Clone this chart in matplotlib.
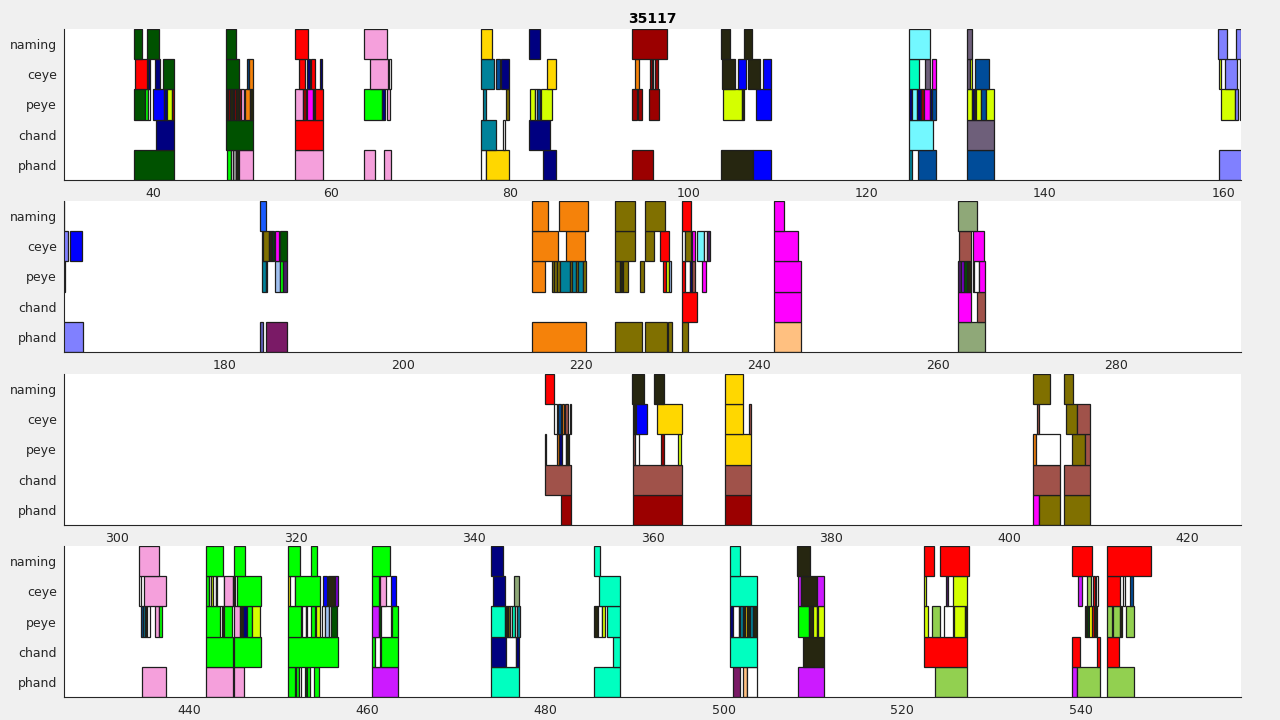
import matplotlib
matplotlib.use("Agg")
import matplotlib.pyplot as plt
from matplotlib.patches import Rectangle

title = "35117"
rows = ["phand", "chand", "peye", "ceye", "naming"]
panel_limits = [(30, 162), (162, 294), (294, 426), (426, 558)]
panel_ticks = [[40, 60, 80, 100, 120, 140, 160],
               [180, 200, 220, 240, 260, 280],
               [300, 320, 340, 360, 380, 400, 420],
               [440, 460, 480, 500, 520, 540]]

palette = {
    "dkgreen": "#005200", "red": "#ff0000", "navy": "#000080", "blue": "#0000ff",
    "pink": "#f5a0dc", "gold": "#ffd700", "teal": "#00829a", "steelblue": "#004c99",
    "orange": "#f5820a", "darkred": "#9b0000", "dark": "#262610", "yellowgreen": "#d4ff00",
    "lightcyan": "#73f8ff", "aqua": "#00ffc0", "graypurple": "#6e5f7a", "periwinkle": "#8080ff",
    "magenta": "#ff00ff", "olive": "#807000", "sienna": "#a0524a", "sage": "#8fa878",
    "peach": "#ffc080", "plum": "#7a1a66", "violet": "#cc1aff", "lightgreen": "#92d050",
    "green": "#00ff00", "lightblue": "#a0c0f0", "royalblue": "#1a5cff", "darkpurple": "#4a1a66",
    "purple": "#7a00cc", "white": "#ffffff", "yellow": "#ffff00", "gray": "#a0a0a0",
    "slateblue": "#6060c0",
}

naming = [
    (37.9, 38.7, "dkgreen"), (39.3, 40.6, "dkgreen"), (48.2, 49.3, "dkgreen"), (55.9, 57.4, "red"),
    (63.7, 66.2, "pink"), (76.8, 78.0, "gold"), (82.2, 83.4, "navy"), (93.7, 97.6, "darkred"),
    (103.7, 104.7, "dark"), (106.3, 107.2, "dark"), (124.8, 127.1, "lightcyan"), (131.3, 131.8, "graypurple"),
    (159.4, 160.4, "periwinkle"), (161.4, 162.0, "periwinkle"),
    (184.0, 184.6, "royalblue"), (214.5, 216.3, "orange"), (217.5, 220.8, "orange"), (223.8, 226.0, "olive"),
    (227.2, 229.4, "olive"), (231.3, 232.3, "red"), (241.6, 242.8, "magenta"), (262.3, 264.4, "sage"),
    (347.9, 349.0, "red"), (357.7, 359.1, "dark"), (360.2, 361.3, "dark"), (368.1, 370.1, "gold"),
    (402.7, 404.6, "olive"), (406.1, 407.2, "olive"),
    (434.4, 436.7, "pink"), (441.9, 443.8, "green"), (445.1, 446.3, "green"), (451.1, 452.5, "green"),
    (453.7, 454.4, "green"), (460.5, 462.6, "green"), (473.9, 475.2, "navy"), (485.4, 486.1, "aqua"),
    (500.7, 501.8, "aqua"), (508.2, 509.7, "dark"), (522.4, 523.6, "red"), (524.2, 527.5, "red"),
    (539.1, 541.3, "red"), (543.0, 547.9, "red"),
]

ceye = [
    (38.0, 39.3, "red"), (39.4, 39.7, "navy"), (40.2, 40.8, "navy"), (41.1, 42.3, "dkgreen"),
    (48.2, 49.6, "dkgreen"), (50.5, 50.8, "steelblue"), (50.8, 51.2, "orange"), (56.4, 57.0, "red"),
    (57.3, 57.6, "navy"), (57.7, 58.1, "red"), (58.7, 58.9, "navy"), (64.3, 66.3, "pink"),
    (66.5, 66.7, "white"), (76.8, 78.2, "teal"), (78.5, 78.9, "steelblue"), (79.0, 79.9, "navy"),
    (84.2, 85.2, "gold"), (94.0, 94.5, "orange"), (95.7, 96.0, "darkred"), (96.0, 96.3, "white"),
    (96.3, 96.6, "darkred"), (103.8, 105.2, "dark"), (105.6, 106.5, "blue"), (106.7, 108.1, "dark"),
    (108.4, 109.3, "blue"), (124.8, 125.9, "aqua"), (126.6, 127.1, "graypurple"), (127.4, 127.8, "magenta"),
    (131.3, 131.6, "graypurple"), (131.6, 131.8, "yellowgreen"), (132.2, 133.7, "steelblue"),
    (159.5, 159.8, "yellowgreen"), (160.2, 161.5, "periwinkle"), (161.9, 162.5, "periwinkle"),
    (162.7, 164.0, "blue"), (184.2, 184.3, "white"), (184.3, 185.0, "olive"), (185.0, 185.3, "dark"),
    (185.3, 185.6, "dkgreen"), (185.7, 186.1, "magenta"), (186.2, 187.0, "dkgreen"),
    (214.5, 217.4, "orange"), (218.3, 220.4, "orange"), (223.8, 226.0, "olive"), (227.2, 228.2, "olive"),
    (228.8, 229.9, "red"), (231.3, 231.6, "white"), (231.6, 232.3, "olive"), (232.4, 232.8, "magenta"),
    (233.0, 233.8, "lightcyan"), (233.8, 234.1, "white"), (234.1, 234.4, "darkpurple"),
    (241.6, 244.3, "magenta"), (262.4, 263.7, "sienna"), (263.9, 265.2, "magenta"),
    (349.0, 349.3, "white"), (349.4, 349.7, "steelblue"), (349.9, 350.1, "orange"), (350.2, 350.5, "sienna"),
    (350.7, 350.9, "lightblue"), (357.8, 358.0, "dark"), (358.2, 359.4, "blue"), (360.5, 363.3, "gold"),
    (368.1, 370.1, "gold"), (370.8, 371.1, "sienna"), (403.1, 403.4, "sienna"), (406.4, 407.6, "olive"),
    (407.6, 409.1, "sienna"),
    (434.4, 434.6, "white"), (435.0, 437.4, "pink"), (441.9, 442.3, "green"), (442.3, 442.5, "white"),
    (442.5, 442.7, "yellowgreen"), (442.7, 443.0, "white"), (443.0, 443.2, "dark"), (443.2, 443.9, "white"),
    (443.9, 444.9, "pink"), (444.9, 445.2, "dark"), (445.4, 448.1, "green"), (451.1, 451.4, "yellow"),
    (451.4, 451.9, "white"), (451.9, 454.7, "green"), (455.1, 455.5, "blue"), (455.6, 456.4, "dark"),
    (456.4, 456.7, "purple"), (460.5, 461.3, "green"), (461.4, 462.1, "pink"), (462.7, 463.2, "blue"),
    (474.1, 475.5, "navy"), (476.5, 477.0, "sage"), (486.0, 488.4, "aqua"), (500.7, 503.7, "aqua"),
    (508.3, 508.6, "violet"), (508.6, 510.4, "dark"), (510.4, 511.2, "violet"),
    (522.4, 522.7, "yellowgreen"), (524.9, 525.1, "darkpurple"), (525.7, 527.3, "yellowgreen"),
    (539.7, 540.2, "violet"), (540.7, 541.2, "lightgreen"), (541.4, 541.6, "red"), (541.7, 542.0, "white"),
    (543.0, 544.4, "red"), (544.8, 545.0, "white"), (545.6, 545.9, "steelblue"),
]

peye = [
    (37.9, 39.1, "dkgreen"), (39.1, 39.4, "green"), (39.4, 39.7, "white"), (40.0, 41.2, "blue"),
    (41.2, 41.5, "navy"), (41.6, 42.1, "yellowgreen"), (42.1, 42.3, "darkred"),
    (48.2, 48.4, "dark"), (48.4, 48.6, "darkred"), (48.6, 49.0, "dark"), (49.1, 49.3, "darkred"),
    (49.3, 49.6, "dark"), (49.6, 49.9, "darkred"), (49.9, 50.2, "pink"), (50.3, 50.9, "orange"),
    (50.9, 51.2, "dark"), (55.9, 56.8, "pink"), (56.8, 57.1, "darkred"), (57.3, 57.9, "magenta"),
    (57.9, 58.2, "dark"), (58.2, 59.0, "red"), (63.7, 65.7, "green"), (65.7, 66.0, "navy"),
    (66.2, 66.6, "pink"), (77.0, 77.3, "teal"), (79.6, 79.9, "olive"), (82.3, 82.8, "yellowgreen"),
    (82.8, 83.1, "white"), (83.1, 83.4, "steelblue"), (83.5, 84.7, "yellowgreen"),
    (93.7, 94.3, "darkred"), (94.4, 94.8, "darkred"), (95.6, 96.7, "darkred"),
    (103.9, 106.0, "yellowgreen"), (106.0, 106.3, "dark"), (107.6, 109.3, "blue"),
    (124.8, 125.1, "navy"), (125.1, 125.7, "lightcyan"), (125.7, 126.1, "navy"), (126.1, 126.4, "darkred"),
    (126.4, 127.1, "magenta"), (127.1, 127.4, "navy"), (127.4, 127.8, "steelblue"),
    (131.3, 131.8, "yellowgreen"), (131.8, 132.1, "navy"), (132.1, 132.3, "dark"),
    (132.3, 132.8, "yellowgreen"), (132.8, 133.4, "steelblue"), (133.4, 134.3, "yellowgreen"),
    (159.8, 161.3, "yellowgreen"), (161.3, 161.7, "periwinkle"),
    (161.9, 162.1, "teal"), (184.2, 184.6, "teal"), (184.6, 184.8, "steelblue"), (185.7, 186.2, "lightblue"),
    (186.2, 186.6, "green"), (186.6, 187.0, "darkpurple"), (214.5, 215.9, "orange"),
    (216.7, 217.0, "olive"), (217.0, 217.3, "olive"), (217.3, 217.6, "olive"), (217.6, 218.7, "teal"),
    (218.7, 219.0, "olive"), (219.0, 219.4, "teal"), (219.4, 219.6, "olive"), (219.6, 220.2, "teal"),
    (220.2, 220.5, "olive"), (223.8, 224.4, "olive"), (224.4, 224.7, "dark"), (224.7, 225.2, "olive"),
    (226.6, 227.0, "olive"), (229.2, 229.5, "red"), (229.5, 229.9, "yellowgreen"), (229.9, 230.1, "lightblue"),
    (231.3, 231.7, "red"), (231.7, 232.2, "white"), (232.2, 232.4, "navy"), (232.4, 232.8, "sienna"),
    (233.5, 234.0, "magenta"), (241.6, 244.6, "magenta"), (262.3, 262.6, "darkpurple"),
    (262.6, 262.9, "purple"), (262.9, 263.3, "dkgreen"), (263.3, 263.7, "dark"),
    (263.9, 264.1, "steelblue"), (264.1, 264.6, "white"), (264.6, 265.3, "magenta"),
    (347.9, 348.1, "white"), (349.3, 349.5, "orange"), (349.5, 349.9, "navy"), (349.9, 350.3, "white"),
    (350.3, 350.6, "dark"), (357.8, 358.0, "sienna"), (358.0, 358.5, "white"), (361.0, 361.3, "darkred"),
    (362.9, 363.2, "yellowgreen"), (368.1, 371.1, "gold"), (402.7, 403.0, "orange"),
    (403.0, 405.7, "white"), (407.1, 408.5, "olive"), (408.5, 409.1, "sienna"),
    (434.6, 434.9, "steelblue"), (434.9, 435.1, "teal"), (435.1, 435.3, "dark"), (435.3, 435.6, "white"),
    (436.2, 436.7, "pink"), (436.7, 437.0, "green"),
    (441.9, 443.5, "green"), (443.7, 444.0, "dark"), (444.0, 444.8, "green"), (445.1, 445.7, "pink"),
    (445.7, 446.1, "dark"), (446.1, 446.5, "navy"), (446.5, 447.1, "green"), (447.1, 448.0, "yellowgreen"),
    (451.1, 452.6, "green"), (452.7, 453.1, "white"), (453.1, 453.3, "yellowgreen"), (453.7, 454.2, "green"),
    (454.3, 454.7, "yellowgreen"), (454.9, 455.3, "white"), (455.3, 455.7, "lightblue"),
    (455.7, 456.0, "white"), (456.0, 456.6, "dkgreen"),
    (460.5, 461.3, "violet"), (461.3, 461.5, "dkgreen"), (461.5, 462.7, "white"), (462.8, 463.5, "green"),
    (473.9, 475.5, "aqua"), (475.5, 475.8, "dark"), (475.8, 476.0, "olive"), (476.0, 476.2, "white"),
    (476.2, 476.6, "aqua"), (476.6, 476.8, "white"), (476.8, 477.1, "teal"),
    (485.4, 485.9, "dark"), (485.9, 486.3, "white"), (486.3, 486.7, "yellowgreen"), (486.9, 488.4, "aqua"),
    (500.7, 501.0, "navy"), (501.0, 501.7, "white"), (501.7, 501.8, "dark"), (501.8, 502.2, "teal"),
    (502.2, 502.4, "dark"), (502.4, 502.6, "gold"), (502.6, 502.9, "dark"), (502.9, 503.3, "teal"),
    (503.3, 503.7, "dark"),
    (508.3, 509.5, "green"), (509.5, 510.0, "dark"), (510.0, 510.4, "yellowgreen"), (510.4, 510.6, "dark"),
    (510.6, 511.2, "yellowgreen"),
    (522.4, 522.9, "yellowgreen"), (523.3, 524.2, "lightgreen"), (524.7, 525.7, "white"),
    (525.8, 527.0, "yellowgreen"), (527.0, 527.3, "dark"),
    (540.5, 540.7, "dark"), (540.7, 541.0, "dkgreen"), (541.0, 541.3, "yellow"), (541.3, 541.5, "red"),
    (541.5, 541.9, "dark"), (543.0, 543.5, "lightgreen"), (543.7, 544.4, "lightgreen"),
    (544.4, 544.7, "dark"), (545.1, 546.0, "lightgreen"),
]

chand = [
    (40.3, 42.3, "navy"), (48.2, 51.2, "dkgreen"), (55.9, 59.0, "red"), (76.8, 78.4, "teal"),
    (79.2, 79.5, "white"), (82.2, 84.5, "navy"), (124.8, 127.5, "lightcyan"), (131.3, 134.3, "graypurple"),
    (231.3, 233.0, "red"), (241.6, 244.6, "magenta"), (262.3, 263.7, "magenta"), (264.4, 265.3, "sienna"),
    (347.9, 350.9, "sienna"), (357.8, 363.3, "sienna"), (368.1, 371.1, "sienna"),
    (402.7, 405.7, "sienna"), (406.1, 409.1, "sienna"),
    (441.9, 444.9, "green"), (445.1, 448.1, "green"), (451.1, 456.7, "green"), (460.5, 460.9, "green"),
    (460.9, 461.4, "white"), (461.5, 463.5, "green"), (473.9, 475.6, "navy"), (475.6, 476.7, "white"),
    (476.7, 477.0, "navy"), (487.6, 488.4, "aqua"), (500.7, 503.7, "aqua"), (508.9, 511.2, "dark"),
    (522.4, 527.3, "red"), (539.1, 539.9, "red"), (541.8, 542.2, "red"), (543.0, 544.3, "red"),
]

phand = [
    (37.9, 42.3, "dkgreen"), (48.3, 48.7, "green"), (48.7, 49.0, "white"), (49.0, 49.3, "gray"),
    (49.3, 49.5, "dark"), (49.6, 51.2, "pink"), (55.9, 59.0, "pink"), (63.7, 64.9, "pink"),
    (65.9, 66.7, "pink"), (76.8, 77.3, "white"), (77.3, 79.9, "gold"), (83.7, 85.2, "navy"),
    (93.7, 96.1, "darkred"), (103.7, 107.3, "dark"), (107.3, 109.3, "blue"), (124.8, 125.1, "teal"),
    (125.8, 127.8, "steelblue"), (131.3, 134.3, "steelblue"), (159.5, 164.1, "periwinkle"),
    (184.0, 184.3, "slateblue"), (184.6, 187.0, "plum"), (214.5, 220.5, "orange"), (223.8, 226.8, "olive"),
    (227.2, 229.6, "olive"), (229.7, 230.2, "olive"), (231.3, 232.0, "olive"), (241.6, 244.6, "peach"),
    (262.3, 265.3, "sage"),
    (349.7, 350.9, "darkred"), (357.8, 363.3, "darkred"), (368.1, 371.1, "darkred"),
    (402.7, 403.4, "magenta"), (403.4, 405.7, "olive"), (406.1, 409.1, "olive"),
    (434.7, 437.4, "pink"), (441.9, 444.9, "pink"), (445.1, 446.2, "pink"), (451.1, 451.9, "green"),
    (452.0, 452.4, "green"), (452.4, 452.6, "white"), (453.0, 453.2, "dkgreen"), (453.2, 453.6, "green"),
    (454.0, 454.6, "green"), (460.5, 463.5, "violet"), (473.9, 477.0, "aqua"), (485.4, 488.4, "aqua"),
    (501.0, 501.8, "plum"), (502.2, 502.6, "peach"), (502.6, 503.7, "white"), (508.3, 511.2, "violet"),
    (523.7, 527.3, "lightgreen"), (539.1, 539.6, "violet"), (539.6, 542.2, "lightgreen"),
    (543.0, 546.0, "lightgreen"),
]

row_data = {"naming": naming, "ceye": ceye, "peye": peye, "chand": chand, "phand": phand}

fig = plt.figure(figsize=(12.8, 7.2), dpi=100, facecolor="#f0f0f0")
axes_bottoms = [1 - 180 / 720, 1 - 352 / 720, 1 - 525 / 720, 1 - 697 / 720]
ax_h = 151 / 720
left = 64 / 1280
width = (1241 - 64) / 1280

for i, (lo, hi) in enumerate(panel_limits):
    ax = fig.add_axes([left, axes_bottoms[i], width, ax_h])
    ax.set_facecolor("white")
    for r, name in enumerate(rows):
        for (s, e, c) in row_data[name]:
            if e < lo or s > hi:
                continue
            ax.add_patch(Rectangle((s, r + 0.5), e - s, 1.0, facecolor=palette[c],
                                   edgecolor="#1e1e1e", linewidth=0.9, clip_on=True))
    ax.set_xlim(lo, hi)
    ax.set_ylim(0.5, 5.5)
    ax.set_yticks(range(1, 6))
    ax.set_yticklabels(rows)
    ax.set_xticks(panel_ticks[i])
    ax.tick_params(direction="in", length=0, labelsize=9, colors="#262626", pad=5)
    for side in ["top", "right"]:
        ax.spines[side].set_visible(False)
    for side in ["left", "bottom"]:
        ax.spines[side].set_color("#262626")
        ax.spines[side].set_linewidth(0.8)
    if i == 0:
        ax.set_title(title, fontsize=10, fontweight="bold", pad=4)

fig.savefig("out.png", dpi=100, facecolor=fig.get_facecolor())
